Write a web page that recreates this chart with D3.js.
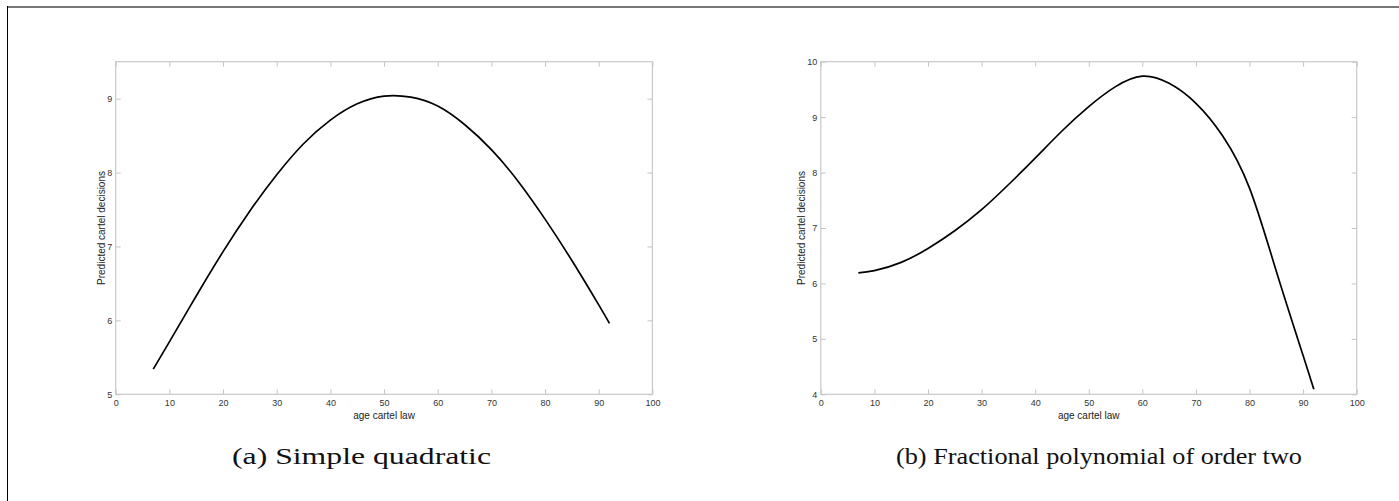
<!DOCTYPE html>
<html>
<head>
<meta charset="utf-8">
<script src="https://cdn.jsdelivr.net/npm/d3@7"></script>
<style>
  html, body { margin: 0; padding: 0; background: #fff; }
  svg { display: block; }
  .tick text { font-family: "Liberation Sans", Arial, sans-serif; font-size: 9px; fill: #333; }
  .tick line { stroke: #c4c4c4; }
  .axis-label { font-family: "Liberation Sans", Arial, sans-serif; font-size: 10px; fill: #222; }
  .caption { font-family: "Liberation Serif", "Times New Roman", serif; font-size: 23px; fill: #111; }
</style>
</head>
<body>
<svg id="chart" width="1399" height="501"></svg>
<script>
// age of the cartel law (x) and predicted cartel decisions (y)
var ageA = [7, 10, 15, 20, 25, 30, 35, 40, 45, 50, 55, 60, 65, 70, 75, 80, 85, 90, 92];
var predA = [5.34, 5.71, 6.33, 6.93, 7.48, 7.97, 8.39, 8.71, 8.93, 9.035, 9.02, 8.90, 8.65, 8.31, 7.88, 7.37, 6.81, 6.21, 5.96];

var ageB = [7, 10, 15, 20, 25, 30, 35, 40, 45, 50, 55, 60, 65, 70, 75, 80, 85, 90, 92];
var predB = [6.19, 6.23, 6.38, 6.63, 6.95, 7.33, 7.78, 8.26, 8.75, 9.19, 9.55, 9.74, 9.61, 9.25, 8.66, 7.72, 6.22, 4.70, 4.09];

var xTicks = [0, 10, 20, 30, 40, 50, 60, 70, 80, 90, 100];
var yTicksA = [5, 6, 7, 8, 9];
var yTicksB = [4, 5, 6, 7, 8, 9, 10];

var captionA = "(a) Simple quadratic";
var captionB = "(b) Fractional polynomial of order two";
var xTitle = "age cartel law";
var yTitle = "Predicted cartel decisions";

var svg = d3.select("#chart");

// page frame: thick grey rule on top, thin black rule on the left
svg.append("line")
    .attr("x1", 7).attr("x2", 1399).attr("y1", 7).attr("y2", 7)
    .attr("stroke", "#777").attr("stroke-width", 2);
svg.append("line")
    .attr("x1", 7.5).attr("x2", 7.5).attr("y1", 6).attr("y2", 501)
    .attr("stroke", "#000").attr("stroke-width", 1);

var panels = [
    { left: 115.7, right: 652.4, top: 61.7, bottom: 394.3, yDomain: [5, 9.5], yTicks: yTicksA,
      xs: ageA, ys: predA, caption: captionA, capX: 232, capW: 259, yTitleX: 104.5 },
    { left: 820.8, right: 1356.7, top: 61.7, bottom: 394.3, yDomain: [4, 10], yTicks: yTicksB,
      xs: ageB, ys: predB, caption: captionB, capX: 896, capW: 406, yTitleX: 804.5 }
];

panels.forEach(function (p) {
    var w = p.right - p.left, h = p.bottom - p.top;
    var x = d3.scaleLinear().domain([0, 100]).range([0, w]);
    var y = d3.scaleLinear().domain(p.yDomain).range([h, 0]);

    var g = svg.append("g").attr("transform", "translate(" + p.left + "," + p.top + ")");

    // ticks pointing inwards on all four sides
    g.append("g").attr("transform", "translate(0," + h + ")")
        .call(d3.axisBottom(x).tickValues(xTicks).tickSize(-5).tickPadding(5.5).tickFormat(d3.format("d")))
        .call(function (a) { a.select(".domain").remove(); });
    g.append("g")
        .call(d3.axisTop(x).tickValues(xTicks).tickSize(-5).tickFormat(""))
        .call(function (a) { a.select(".domain").remove(); });
    g.append("g")
        .call(d3.axisLeft(y).tickValues(p.yTicks).tickSize(-5).tickPadding(3.5).tickFormat(d3.format("d")))
        .call(function (a) { a.select(".domain").remove(); });
    g.append("g").attr("transform", "translate(" + w + ",0)")
        .call(d3.axisRight(y).tickValues(p.yTicks).tickSize(-5).tickFormat(""))
        .call(function (a) { a.select(".domain").remove(); });

    g.selectAll(".tick text").attr("fill", "#333");

    // plot box
    g.append("rect")
        .attr("width", w).attr("height", h)
        .attr("fill", "none").attr("stroke", "#c8c8c8").attr("stroke-width", 1.2);

    var pts = p.xs.map(function (d, i) { return [d, p.ys[i]]; });
    var line = d3.line()
        .x(function (d) { return x(d[0]); })
        .y(function (d) { return y(d[1]); })
        .curve(d3.curveNatural);
    g.append("path")
        .datum(pts)
        .attr("d", line)
        .attr("fill", "none")
        .attr("stroke", "#000")
        .attr("stroke-width", 1.7);

    g.append("text").attr("class", "axis-label")
        .attr("x", w / 2).attr("y", 419 - p.top)
        .attr("text-anchor", "middle")
        .text(xTitle);

    svg.append("text").attr("class", "axis-label")
        .attr("transform", "translate(" + p.yTitleX + "," + (p.top + h / 2) + ") rotate(-90)")
        .attr("text-anchor", "middle")
        .text(yTitle);

    svg.append("text").attr("class", "caption")
        .attr("x", p.capX).attr("y", 464)
        .attr("textLength", p.capW)
        .attr("lengthAdjust", "spacingAndGlyphs")
        .text(p.caption);
});
</script>
</body>
</html>
